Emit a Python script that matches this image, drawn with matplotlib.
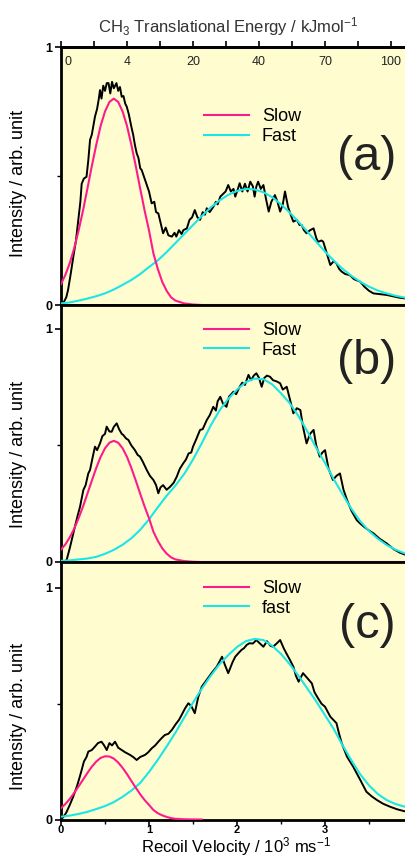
import matplotlib
matplotlib.use('Agg')
import matplotlib.pyplot as plt
import matplotlib.transforms as mtransforms
from matplotlib.ticker import FixedLocator, NullFormatter

plt.rcParams['font.family'] = ['Liberation Sans', 'DejaVu Sans']
plt.rcParams['mathtext.fontset'] = 'custom'
plt.rcParams['mathtext.rm'] = 'Liberation Sans'
plt.rcParams['mathtext.it'] = 'Liberation Sans:italic'

# ---------------- data ----------------
fit_v = [0.0, 0.1, 0.2, 0.3, 0.4, 0.5, 0.6, 0.7, 0.8, 0.9, 1.0, 1.1, 1.2, 1.3, 1.4, 1.5,
         1.6, 1.7, 1.8, 1.9, 2.0, 2.1, 2.2, 2.3, 2.4, 2.5, 2.6, 2.7, 2.8, 2.9, 3.0, 3.1,
         3.2, 3.3, 3.4, 3.5, 3.6, 3.7, 3.8, 3.9]
fast_a = [0.006, 0.010, 0.017, 0.025, 0.034, 0.045, 0.060, 0.078, 0.097, 0.120, 0.147, 0.173,
          0.205, 0.240, 0.275, 0.310, 0.345, 0.378, 0.405, 0.427, 0.442, 0.450, 0.448, 0.437,
          0.418, 0.390, 0.358, 0.322, 0.284, 0.245, 0.207, 0.172, 0.140, 0.113, 0.090, 0.071,
          0.056, 0.045, 0.036, 0.029]
fast_b = [0.005, 0.007, 0.011, 0.015, 0.022, 0.035, 0.052, 0.074, 0.102, 0.138, 0.183, 0.235,
          0.284, 0.328, 0.378, 0.440, 0.510, 0.585, 0.650, 0.700, 0.740, 0.772, 0.787, 0.785,
          0.762, 0.724, 0.681, 0.625, 0.560, 0.490, 0.425, 0.355, 0.290, 0.228, 0.175, 0.133,
          0.100, 0.073, 0.053, 0.038]
fast_c = [0.012, 0.017, 0.024, 0.033, 0.045, 0.058, 0.075, 0.098, 0.125, 0.158, 0.205, 0.258,
          0.315, 0.375, 0.440, 0.505, 0.565, 0.620, 0.670, 0.710, 0.745, 0.770, 0.780, 0.775,
          0.750, 0.715, 0.670, 0.620, 0.565, 0.510, 0.450, 0.390, 0.320, 0.255, 0.195, 0.147,
          0.110, 0.084, 0.067, 0.056]

slow_v = [0.0, 0.05, 0.1, 0.15, 0.2, 0.25, 0.3, 0.35, 0.4, 0.45, 0.5, 0.55, 0.6, 0.65, 0.7,
          0.75, 0.8, 0.85, 0.9, 0.95, 1.0, 1.05, 1.1, 1.15, 1.2, 1.25, 1.3, 1.4, 1.5, 1.6]
slow_a = [0.081, 0.117, 0.163, 0.220, 0.289, 0.366, 0.451, 0.538, 0.620, 0.694, 0.750, 0.787,
          0.800, 0.787, 0.750, 0.694, 0.620, 0.538, 0.451, 0.366, 0.289, 0.200, 0.140, 0.090,
          0.055, 0.030, 0.017, 0.006, 0.002, 0.0]
slow_b = [0.053, 0.076, 0.106, 0.143, 0.188, 0.238, 0.293, 0.349, 0.403, 0.451, 0.488, 0.512,
          0.520, 0.512, 0.488, 0.451, 0.403, 0.349, 0.293, 0.238, 0.188, 0.130, 0.091, 0.059,
          0.036, 0.020, 0.011, 0.004, 0.001, 0.0]
slow_c = [0.049, 0.067, 0.089, 0.115, 0.143, 0.172, 0.201, 0.228, 0.250, 0.266, 0.273, 0.272,
          0.263, 0.246, 0.223, 0.196, 0.166, 0.137, 0.109, 0.084, 0.063, 0.041, 0.027, 0.018,
          0.011, 0.006, 0.003, 0.001, 0.0003, 0.0]
slow_tail_end = 3.92

data_a_v = [0.00, 0.03, 0.06, 0.08, 0.11, 0.14, 0.17, 0.20, 0.22, 0.235, 0.26, 0.29, 0.31, 0.33,
            0.35, 0.37, 0.386, 0.41, 0.43, 0.443, 0.46, 0.48, 0.50, 0.52, 0.54, 0.56, 0.58, 0.60,
            0.63, 0.65, 0.67, 0.69, 0.71, 0.73, 0.746, 0.77, 0.80, 0.82, 0.84, 0.86, 0.88, 0.90,
            0.917, 0.94, 0.97, 1.00, 1.03, 1.06, 1.08, 1.106, 1.13, 1.16, 1.19, 1.22, 1.26, 1.29,
            1.31, 1.34, 1.37, 1.39, 1.43, 1.46, 1.49, 1.52, 1.55, 1.58, 1.61, 1.636, 1.656, 1.69,
            1.73, 1.76, 1.78, 1.81, 1.84, 1.87, 1.90, 1.93, 1.96, 1.98, 2.01, 2.03, 2.06, 2.09,
            2.12, 2.15, 2.18, 2.20, 2.22, 2.24, 2.27, 2.30, 2.33, 2.36, 2.39, 2.43, 2.46, 2.49,
            2.52, 2.545, 2.58, 2.61, 2.64, 2.68, 2.71, 2.735, 2.76, 2.79, 2.83, 2.87, 2.90, 2.92,
            2.96, 2.98, 3.02, 3.06, 3.10, 3.13, 3.16, 3.19, 3.23, 3.28, 3.33, 3.40, 3.45, 3.50,
            3.55, 3.62, 3.70, 3.78, 3.85, 3.92]
data_a_i = [0.00, 0.01, 0.03, 0.058, 0.12, 0.187, 0.25, 0.342, 0.40, 0.47, 0.49, 0.497, 0.56, 0.64,
            0.66, 0.70, 0.73, 0.76, 0.80, 0.833, 0.80, 0.85, 0.83, 0.86, 0.86, 0.82, 0.865, 0.84,
            0.86, 0.83, 0.845, 0.807, 0.81, 0.78, 0.77, 0.74, 0.69, 0.66, 0.62, 0.588, 0.57, 0.53,
            0.523, 0.50, 0.47, 0.44, 0.394, 0.40, 0.36, 0.355, 0.32, 0.278, 0.30, 0.27, 0.265, 0.28,
            0.265, 0.29, 0.275, 0.29, 0.297, 0.33, 0.34, 0.368, 0.34, 0.33, 0.36, 0.35, 0.375, 0.36,
            0.38, 0.40, 0.39, 0.42, 0.43, 0.44, 0.465, 0.44, 0.45, 0.42, 0.45, 0.472, 0.44, 0.47,
            0.44, 0.478, 0.46, 0.42, 0.46, 0.478, 0.45, 0.465, 0.41, 0.362, 0.40, 0.426, 0.40, 0.362,
            0.39, 0.44, 0.38, 0.35, 0.323, 0.33, 0.31, 0.31, 0.29, 0.278, 0.29, 0.297, 0.26, 0.245,
            0.25, 0.245, 0.20, 0.155, 0.17, 0.161, 0.14, 0.129, 0.12, 0.116, 0.10, 0.090, 0.07, 0.055,
            0.045, 0.042, 0.039, 0.033, 0.028, 0.025]

data_b_v = [0.00, 0.04, 0.065, 0.10, 0.14, 0.17, 0.19, 0.216, 0.254, 0.28, 0.31, 0.33, 0.36, 0.386,
            0.41, 0.443, 0.47, 0.50, 0.519, 0.55, 0.576, 0.60, 0.633, 0.66, 0.69, 0.708, 0.74, 0.765,
            0.80, 0.84, 0.87, 0.898, 0.93, 0.974, 1.01, 1.05, 1.08, 1.106, 1.13, 1.16, 1.20, 1.24,
            1.28, 1.315, 1.35, 1.39, 1.42, 1.45, 1.48, 1.50, 1.54, 1.58, 1.61, 1.656, 1.69, 1.73,
            1.76, 1.78, 1.81, 1.84, 1.88, 1.91, 1.96, 1.99, 2.03, 2.06, 2.09, 2.13, 2.16, 2.19, 2.22,
            2.25, 2.28, 2.31, 2.34, 2.375, 2.41, 2.45, 2.49, 2.52, 2.565, 2.60, 2.64, 2.68, 2.72,
            2.75, 2.79, 2.83, 2.87, 2.90, 2.94, 2.97, 3.00, 3.04, 3.09, 3.13, 3.17, 3.21, 3.25, 3.30,
            3.36, 3.40, 3.44, 3.50, 3.55, 3.62, 3.70, 3.78, 3.85, 3.92]
data_b_i = [0.00, 0.00, 0.01, 0.06, 0.123, 0.17, 0.20, 0.237, 0.309, 0.33, 0.38, 0.395, 0.45, 0.495,
            0.48, 0.509, 0.54, 0.55, 0.581, 0.56, 0.559, 0.58, 0.595, 0.57, 0.55, 0.545, 0.53, 0.524,
            0.50, 0.48, 0.46, 0.452, 0.43, 0.395, 0.37, 0.352, 0.33, 0.295, 0.32, 0.33, 0.31, 0.323,
            0.34, 0.366, 0.40, 0.424, 0.44, 0.466, 0.47, 0.495, 0.53, 0.567, 0.57, 0.609, 0.63, 0.666,
            0.65, 0.69, 0.709, 0.68, 0.666, 0.71, 0.731, 0.72, 0.752, 0.77, 0.76, 0.803, 0.78, 0.80, 0.81,
            0.79, 0.752, 0.79, 0.80, 0.795, 0.78, 0.775, 0.767, 0.74, 0.752, 0.70, 0.638, 0.66, 0.652,
            0.58, 0.509, 0.55, 0.567, 0.50, 0.452, 0.47, 0.48, 0.40, 0.352, 0.37, 0.38, 0.31, 0.266, 0.22,
            0.18, 0.165, 0.152, 0.135, 0.123, 0.10, 0.08, 0.055, 0.04, 0.03]

data_c_v = [0.00, 0.03, 0.06, 0.10, 0.14, 0.18, 0.21, 0.235, 0.26, 0.29, 0.31, 0.35, 0.386, 0.42,
            0.46, 0.49, 0.52, 0.55, 0.58, 0.614, 0.65, 0.69, 0.73, 0.784, 0.82, 0.86, 0.90, 0.955,
            0.99, 1.03, 1.07, 1.106, 1.14, 1.18, 1.22, 1.26, 1.30, 1.34, 1.37, 1.41, 1.447, 1.48,
            1.52, 1.56, 1.60, 1.65, 1.71, 1.77, 1.83, 1.86, 1.90, 1.95, 1.98, 2.02, 2.05, 2.08, 2.11,
            2.14, 2.18, 2.22, 2.26, 2.30, 2.34, 2.38, 2.41, 2.45, 2.49, 2.53, 2.56, 2.60, 2.64, 2.67,
            2.70, 2.75, 2.80, 2.85, 2.88, 2.92, 2.96, 3.00, 3.06, 3.13, 3.16, 3.19, 3.25, 3.32, 3.40,
            3.47, 3.53, 3.59, 3.66, 3.74, 3.82, 3.92]
data_c_i = [0.00, 0.012, 0.03, 0.063, 0.10, 0.142, 0.18, 0.214, 0.25, 0.27, 0.293, 0.30, 0.315, 0.33,
            0.336, 0.32, 0.30, 0.33, 0.32, 0.336, 0.31, 0.30, 0.29, 0.279, 0.27, 0.257, 0.27, 0.279,
            0.29, 0.307, 0.32, 0.336, 0.35, 0.365, 0.37, 0.387, 0.41, 0.43, 0.451, 0.48, 0.502, 0.49,
            0.459, 0.53, 0.574, 0.60, 0.632, 0.66, 0.703, 0.67, 0.632, 0.68, 0.703, 0.72, 0.732, 0.74,
            0.754, 0.761, 0.76, 0.775, 0.76, 0.746, 0.77, 0.75, 0.746, 0.76, 0.775, 0.74, 0.718, 0.69,
            0.66, 0.62, 0.595, 0.632, 0.61, 0.588, 0.55, 0.524, 0.50, 0.487, 0.444, 0.416, 0.37, 0.329,
            0.271, 0.228, 0.171, 0.12, 0.10, 0.084, 0.068, 0.055, 0.044, 0.034]

panel_labels = ['(a)', '(b)', '(c)']
legend_labels = [['Slow', 'Fast'], ['Slow', 'Fast'], ['Slow', 'fast']]
energy_pos = [0.0, 0.75, 1.5, 2.25, 3.0, 3.75]
energy_labels = ['0', '4', '20', '40', '70', '100']
energy_ticks = [0.0, 0.375, 0.75, 1.125, 1.5, 1.875, 2.25, 2.625, 3.0, 3.375, 3.75]
vel_ticks = [0, 1, 2, 3]
vel_minor = [0.5, 1.5, 2.5, 3.5]

# ---------------- figure ----------------
W, H = 406, 857
fig = plt.figure(figsize=(W / 100, H / 100), dpi=100)
bg = '#FFFDD0'
slow_col = '#FF1A8C'
fast_col = '#1AE6E6'

# (bottom_px, top_px, ytop)
panels = [(305, 47, 1.0), (562, 305, 1.103), (819.5, 562, 1.112)]
datas = [(data_a_v, data_a_i, fast_a, slow_a, True),
         (data_b_v, data_b_i, fast_b, slow_b, True),
         (data_c_v, data_c_i, fast_c, slow_c, False)]
leg_anchor = [0.762, 0.934, 0.93]
lab_y = [157, 361, 626]
ylab_y = [0.472, 0.42, 0.40]

axes = []
for k, ((bpx, tpx, ytop), (dv, di, fst, slw, tail)) in enumerate(zip(panels, datas)):
    ax = fig.add_axes([61 / W, 1 - bpx / H, 345 / W, (bpx - tpx) / H])
    ax.set_facecolor(bg)
    ax.set_xlim(0, 3.92)
    ax.set_ylim(0, ytop)
    ax.plot(dv, di, color='black', lw=1.4, zorder=2)
    ax.plot(fit_v, fst, color=fast_col, lw=1.5, zorder=3, label=legend_labels[k][1])
    sv = list(slow_v)
    sy = list(slw)
    if tail:
        sv = sv + [slow_tail_end]
        sy = sy + [0.0]
    ax.plot(sv, sy, color=slow_col, lw=1.5, zorder=4, label=legend_labels[k][0])

    for s in ['left', 'bottom', 'top']:
        ax.spines[s].set_linewidth(2.0)
    ax.spines['right'].set_visible(False)

    ax.yaxis.set_major_locator(FixedLocator([0, 1]))
    ax.yaxis.set_minor_locator(FixedLocator([0.5]))
    ax.set_yticklabels(['0', '1'], fontweight='bold', fontsize=9)
    ax.tick_params(axis='y', which='major', direction='out', length=4, width=1.2, pad=2)
    ax.tick_params(axis='y', which='minor', direction='out', length=3, width=1.0)

    if k == 2:
        ax.xaxis.set_major_locator(FixedLocator(vel_ticks))
        ax.xaxis.set_minor_locator(FixedLocator(vel_minor))
        ax.set_xticklabels([str(t) for t in vel_ticks], fontweight='bold', fontsize=8)
        ax.tick_params(axis='x', which='major', direction='out', length=4, width=1.2, pad=0)
        ax.tick_params(axis='x', which='minor', direction='out', length=3, width=1.0)
    else:
        ax.set_xticks([])

    ax.set_ylabel('Intensity / arb. unit', fontsize=13)
    ax.yaxis.set_label_coords(-0.0986, ylab_y[k])

    # legend
    handles, labels = ax.get_legend_handles_labels()
    ax.legend(handles[::-1], labels[::-1], loc='upper left',
              bbox_to_anchor=(0.415, leg_anchor[k]), frameon=False, fontsize=13,
              handlelength=2.5, handletextpad=0.7, labelspacing=0.15,
              borderpad=0, borderaxespad=0)

    # panel label
    fig.text(396 / W, 1 - lab_y[k] / H, panel_labels[k], fontsize=35, ha='right',
             va='center', color='#222222')
    axes.append(ax)

# top energy axis for panel (a)
axa = axes[0]
sec = axa.secondary_xaxis('top')
sec.xaxis.set_major_locator(FixedLocator(energy_ticks))
sec.xaxis.set_major_formatter(NullFormatter())
sec.tick_params(axis='x', direction='out', length=4, width=1.2)
sec.spines['top'].set_linewidth(2.0)
trans = mtransforms.blended_transform_factory(axa.transData, axa.transAxes)
for p, lab in zip(energy_pos, energy_labels):
    xoff = 0.08 if p == 0.0 else 0.0
    axa.text(p + xoff, 0.94, lab, transform=trans, ha='center', va='center',
             fontsize=9, color='#222222')

fig.text(228 / W, 1 - 27 / H, r'CH$_3$ Translational Energy / kJmol$^{-1}$',
         ha='center', va='center', fontsize=12, color='#333333')
fig.text(236 / W, 1 - 847 / H, r'Recoil Velocity / 10$^3$ ms$^{-1}$',
         ha='center', va='center', fontsize=12)

fig.savefig('out.png', dpi=100)
